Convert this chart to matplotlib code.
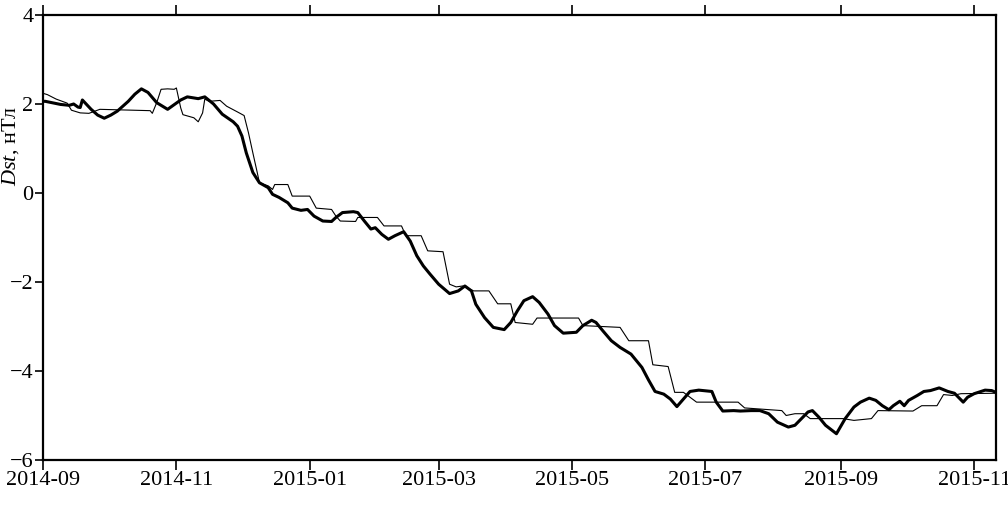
import numpy as np
import pandas as pd
import matplotlib
matplotlib.use('Agg')
import matplotlib.pyplot as plt
import matplotlib.dates as mdates

plt.rcParams['font.family'] = ['Liberation Serif', 'DejaVu Serif']
plt.rcParams['mathtext.fontset'] = 'custom'
plt.rcParams['mathtext.rm'] = 'Liberation Serif'
plt.rcParams['mathtext.it'] = 'Liberation Serif:italic'

start = pd.Timestamp('2014-09-01')

# thick curve: days since 2014-09-01, Dst (nT)
thick_days = [0, 1, 8, 12, 14, 16, 17, 18, 22, 25, 28, 31, 34, 39, 42, 45, 48, 52, 57, 63,
              66, 71, 74, 78, 82, 87, 89, 91, 93, 96, 99, 103, 105, 108, 112, 114, 118, 121, 124, 128,
              132, 134, 137, 142, 144, 147, 150, 152, 155, 158, 161, 165, 168, 171, 174, 177, 181, 186, 190, 193,
              196, 198, 202, 206, 211, 214, 217, 220, 224, 227, 231, 234, 238, 244, 247, 251, 253, 256, 260, 264,
              269, 274, 277, 280, 284, 287, 290, 293, 296, 300, 306, 308, 311, 316, 319, 324, 328, 332, 336, 341,
              344, 347, 350, 352, 355, 358, 363, 367, 371, 374, 378, 381, 384, 387, 389, 392, 394, 396, 400, 403,
              406, 410, 414, 417, 421, 423, 426, 431, 434, 436]
thick_dst = [2.06, 2.06, 1.99, 1.97, 2.00, 1.93, 1.92, 2.09, 1.88, 1.75, 1.68, 1.75, 1.84, 2.06, 2.22, 2.34, 2.26, 2.03, 1.88, 2.09,
             2.16, 2.12, 2.16, 2.00, 1.77, 1.60, 1.50, 1.28, 0.90, 0.46, 0.23, 0.12, -0.03, -0.10, -0.22, -0.34, -0.39, -0.37, -0.52, -0.63,
             -0.64, -0.55, -0.44, -0.42, -0.44, -0.63, -0.81, -0.78, -0.93, -1.04, -0.96, -0.87, -1.08, -1.41, -1.64, -1.82, -2.05, -2.26, -2.20, -2.09,
             -2.20, -2.50, -2.80, -3.02, -3.07, -2.91, -2.65, -2.42, -2.33, -2.46, -2.72, -2.98, -3.15, -3.13, -2.98, -2.86, -2.91, -3.09, -3.32, -3.47,
             -3.62, -3.92, -4.20, -4.46, -4.52, -4.63, -4.80, -4.63, -4.46, -4.43, -4.46, -4.70, -4.90, -4.89, -4.90, -4.89, -4.89, -4.96, -5.15, -5.26,
             -5.22, -5.07, -4.92, -4.89, -5.04, -5.22, -5.41, -5.07, -4.81, -4.70, -4.61, -4.66, -4.78, -4.87, -4.78, -4.68, -4.78, -4.66, -4.55, -4.46,
             -4.44, -4.38, -4.46, -4.50, -4.70, -4.59, -4.51, -4.43, -4.44, -4.48]

# thin (step-like) curve
thin_days = [0, 2, 6, 11, 13, 17, 21, 26, 49, 50, 52, 54, 57, 60, 61, 63, 64, 69, 71, 73,
             74, 76, 81, 84, 89, 92, 94, 96, 98, 99, 103, 105, 106, 112, 114, 122, 125, 132, 134, 136,
             143, 144, 153, 156, 164, 166, 173, 176, 183, 186, 189, 192, 197, 204, 208, 214, 216, 224, 226, 245,
             247, 264, 268, 277, 279, 286, 289, 293, 299, 318, 321, 338, 340, 344, 348, 351, 366, 371, 379, 382,
             398, 402, 409, 412, 416, 420, 436]
thin_dst = [2.24, 2.21, 2.11, 2.02, 1.86, 1.80, 1.79, 1.88, 1.85, 1.79, 2.03, 2.33, 2.34, 2.33, 2.36, 1.91, 1.76, 1.69, 1.60, 1.80,
            2.11, 2.06, 2.08, 1.95, 1.82, 1.74, 1.35, 0.90, 0.46, 0.23, 0.16, 0.08, 0.19, 0.19, -0.07, -0.07, -0.34, -0.37, -0.52, -0.63,
            -0.64, -0.55, -0.55, -0.74, -0.74, -0.96, -0.96, -1.30, -1.32, -2.05, -2.11, -2.09, -2.20, -2.20, -2.49, -2.49, -2.91, -2.95, -2.81, -2.81,
            -2.98, -3.02, -3.32, -3.32, -3.86, -3.90, -4.48, -4.48, -4.70, -4.70, -4.83, -4.89, -5.00, -4.96, -4.96, -5.07, -5.07, -5.11, -5.07, -4.89,
            -4.90, -4.78, -4.78, -4.53, -4.55, -4.51, -4.50]

thick_x = start + pd.to_timedelta(thick_days, unit='D')
thin_x = start + pd.to_timedelta(thin_days, unit='D')

fig = plt.figure(figsize=(10.08, 5.08), dpi=100)
ax = fig.add_axes([0.0427, 0.0945, 0.9454, 0.876])

ax.plot(thin_x, thin_dst, color='black', linewidth=0.8)
ax.plot(thick_x, thick_dst, color='black', linewidth=2.2)

ax.set_xlim(start, pd.Timestamp('2015-11-11'))
ax.set_ylim(-6, 4)
ax.set_yticks([-6, -4, -2, 0, 2, 4])

ax.xaxis.set_major_locator(mdates.MonthLocator(bymonth=[1, 3, 5, 7, 9, 11]))
ax.xaxis.set_major_formatter(mdates.DateFormatter('%Y-%m'))

for s in ax.spines.values():
    s.set_linewidth(1.6)
ax.tick_params(axis='x', which='both', direction='out', length=7, width=1.2,
               top=True, labeltop=False, labelsize=16, pad=1)
ax.tick_params(axis='y', direction='out', length=6, width=1.2,
               right=False, labelsize=16, pad=1)

# label sits high on the left, as in the original figure
ax.set_ylabel(r'$\mathit{Dst}$, нТл', fontsize=16)
ax.yaxis.set_label_coords(-0.0235, 0.705)

fig.savefig('out.png', dpi=100)
